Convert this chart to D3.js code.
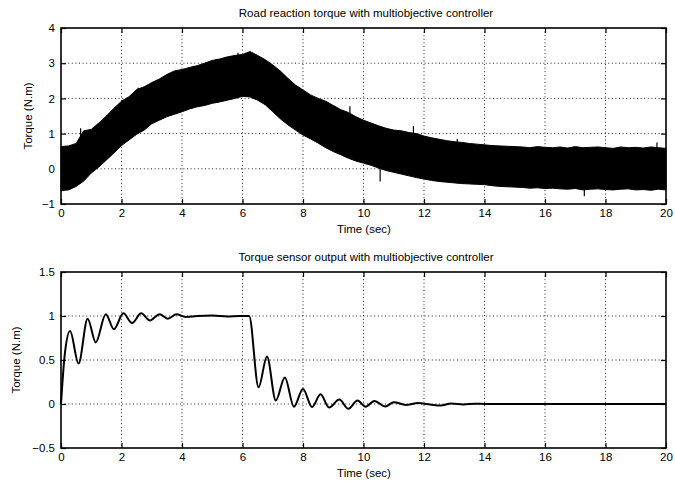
<!DOCTYPE html>
<html>
<head>
<meta charset="utf-8">
<script src="https://cdn.jsdelivr.net/npm/d3@7"></script>
<style>
  body { margin: 0; background: #fff; }
  svg text { font-family: "Liberation Sans", Arial, sans-serif; fill: #000; }
</style>
</head>
<body>
<svg id="chart" width="675" height="484"></svg>
<script>
// Top panel: road reaction torque, read as a noisy band (upper / lower envelope every 0.25 s)
var roadTime = d3.range(0, 20.001, 0.25);
var roadUpper = [0.63, 0.65, 0.72, 1.08, 1.12, 1.3, 1.5, 1.72, 1.92, 2.05, 2.25, 2.33, 2.45, 2.55, 2.68, 2.78,
  2.82, 2.88, 2.93, 3.0, 3.08, 3.12, 3.18, 3.22, 3.25, 3.33, 3.22, 3.1, 2.95, 2.78, 2.57, 2.38,
  2.24, 2.1, 2.0, 1.92, 1.8, 1.68, 1.6, 1.48, 1.38, 1.3, 1.22, 1.15, 1.1, 1.08, 1.03, 1.0,
  0.93, 0.88, 0.84, 0.8, 0.77, 0.75, 0.72, 0.7, 0.68, 0.66, 0.65, 0.64, 0.63,
  0.62, 0.6, 0.63, 0.61, 0.6, 0.62, 0.59, 0.63, 0.6, 0.61, 0.62, 0.6, 0.58, 0.62, 0.6, 0.61, 0.59, 0.62, 0.6, 0.58];
var roadLower = [-0.62, -0.6, -0.5, -0.35, -0.12, 0.05, 0.25, 0.45, 0.66, 0.82, 0.98, 1.1, 1.28, 1.38, 1.48, 1.55,
  1.62, 1.7, 1.76, 1.8, 1.86, 1.9, 1.95, 2.0, 2.06, 2.04, 1.95, 1.82, 1.62, 1.42, 1.25, 1.1,
  0.96, 0.85, 0.73, 0.6, 0.49, 0.4, 0.3, 0.22, 0.16, 0.1, 0.02, -0.05, -0.1, -0.15, -0.2, -0.25,
  -0.29, -0.33, -0.36, -0.38, -0.4, -0.42, -0.43, -0.44, -0.45, -0.48, -0.5, -0.51, -0.52,
  -0.53, -0.55, -0.54, -0.56, -0.55, -0.57, -0.58, -0.56, -0.6, -0.58, -0.57, -0.59, -0.6, -0.58, -0.57, -0.6, -0.59, -0.61, -0.58, -0.6];
// isolated spikes sticking out of the band
var spikeTime = [0.65, 2.55, 5.85, 9.55, 10.55, 11.65, 13.1, 17.3, 19.7];
var spikeValue = [1.15, 2.3, 3.3, 1.78, -0.36, 1.22, 0.85, -0.78, 0.75];

// Bottom panel: torque sensor output (peaks / troughs)
var sensorTime = [0, 0.12, 0.3, 0.58, 0.88, 1.15, 1.48, 1.75, 2.06, 2.35, 2.65, 2.94, 3.26, 3.53, 3.82, 4.12,
  4.5, 5.0, 5.5, 5.9, 6.22, 6.53, 6.81, 7.1, 7.4, 7.7, 8.0, 8.3, 8.58, 8.86, 9.2, 9.5, 9.8, 10.07,
  10.36, 10.72, 11.0, 11.4, 11.8, 12.2, 12.55, 12.9, 13.3, 13.7, 14.0, 20];
var sensorValue = [0, 0.55, 0.83, 0.46, 0.97, 0.70, 1.02, 0.85, 1.03, 0.92, 1.03, 0.95, 1.02, 0.97, 1.02, 0.99,
  1.0, 1.005, 0.995, 1.0, 1.0, 0.19, 0.54, 0.04, 0.30, -0.03, 0.17, -0.035, 0.11, -0.04, 0.05, -0.055, 0.04, -0.03,
  0.035, -0.028, 0.02, -0.01, 0.01, -0.005, -0.018, 0.005, -0.005, 0.003, 0, 0];

var xTicks = [0, 2, 4, 6, 8, 10, 12, 14, 16, 18, 20];
var topTicks = [-1, 0, 1, 2, 3, 4];
var bottomTicks = [-0.5, 0, 0.5, 1, 1.5];

var svg = d3.select("#chart");

function panel(top, bottom, yDomain, yTicks, title, yLabelX) {
  var x = d3.scaleLinear().domain([0, 20]).range([61, 666]);
  var y = d3.scaleLinear().domain(yDomain).range([bottom, top]);
  var g = svg.append("g");

  // dotted grid
  g.selectAll(".vgrid").data(xTicks.slice(1, -1)).enter().append("line")
    .attr("x1", d => x(d)).attr("x2", d => x(d))
    .attr("y1", top).attr("y2", bottom)
    .attr("stroke", "#222").attr("stroke-width", 1).attr("stroke-dasharray", "1,2.6");
  g.selectAll(".hgrid").data(yTicks.slice(1, -1)).enter().append("line")
    .attr("x1", 61).attr("x2", 666)
    .attr("y1", d => y(d)).attr("y2", d => y(d))
    .attr("stroke", "#222").attr("stroke-width", 1).attr("stroke-dasharray", "1,2.6");

  // inward ticks on all four sides, MATLAB style
  var ax = [
    d3.axisBottom(x).tickValues(xTicks).tickSize(-5).tickFormat(d3.format("d")),
    d3.axisTop(x).tickValues(xTicks).tickSize(-5).tickFormat(""),
    d3.axisLeft(y).tickValues(yTicks).tickSize(-5).tickFormat(d => d < 0 ? "\u2212" + Math.abs(d) : d),
    d3.axisRight(y).tickValues(yTicks).tickSize(-5).tickFormat("")
  ];
  var pos = ["translate(0," + bottom + ")", "translate(0," + top + ")", "translate(61,0)", "translate(666,0)"];
  ax.forEach(function (a, i) {
    var ag = g.append("g").attr("transform", pos[i]).call(a);
    ag.select(".domain").remove();
    ag.selectAll("line").attr("stroke", "#000").attr("stroke-width", 1.2);
    ag.selectAll("text").attr("font-size", "11.5px");
    if (i == 0) ag.selectAll("text").attr("dy", "0.95em").attr("y", 2);
    if (i == 2) ag.selectAll("text").attr("x", -6);
  });

  g.append("rect").attr("x", 61).attr("y", top).attr("width", 605).attr("height", bottom - top)
    .attr("fill", "none").attr("stroke", "#000").attr("stroke-width", 1.6);

  g.append("text").attr("x", 366).attr("y", top - 11).attr("text-anchor", "middle")
    .attr("font-size", "11.5px").text(title);
  g.append("text").attr("x", 364).attr("y", bottom + 29).attr("text-anchor", "middle")
    .attr("font-size", "11.5px").text("Time (sec)");
  g.append("text").attr("transform", "translate(" + yLabelX + "," + ((top + bottom) / 2) + ") rotate(-90)")
    .attr("text-anchor", "middle").attr("font-size", "11.5px").text("Torque (N.m)");

  return { g: g, x: x, y: y };
}

// top
var p1 = panel(28, 204, [-1, 4], topTicks, "Road reaction torque with multiobjective controller", 32);
var band = roadTime.map((t, i) => ({ t: t, lo: roadLower[i], hi: roadUpper[i] }));
p1.g.append("path").datum(band)
  .attr("d", d3.area().x(d => p1.x(d.t)).y0(d => p1.y(d.lo)).y1(d => p1.y(d.hi)))
  .attr("fill", "#000").attr("stroke", "#000").attr("stroke-width", 1);
p1.g.selectAll(".spike").data(spikeTime).enter().append("line")
  .attr("x1", d => p1.x(d)).attr("x2", d => p1.x(d))
  .attr("y1", (d, i) => p1.y(spikeValue[i]))
  .attr("y2", function (d) {
    var k = Math.round(d / 0.25);
    return p1.y((roadUpper[k] + roadLower[k]) / 2);
  })
  .attr("stroke", "#000").attr("stroke-width", 1.2);

// bottom
var p2 = panel(272, 448, [-0.5, 1.5], bottomTicks, "Torque sensor output with multiobjective controller", 20);
var pts = sensorTime.map((t, i) => ({ t: t, v: sensorValue[i] }));
p2.g.append("path").datum(pts)
  .attr("d", d3.line().x(d => p2.x(d.t)).y(d => p2.y(d.v)).curve(d3.curveMonotoneX))
  .attr("fill", "none").attr("stroke", "#000").attr("stroke-width", 2);
</script>
</body>
</html>
